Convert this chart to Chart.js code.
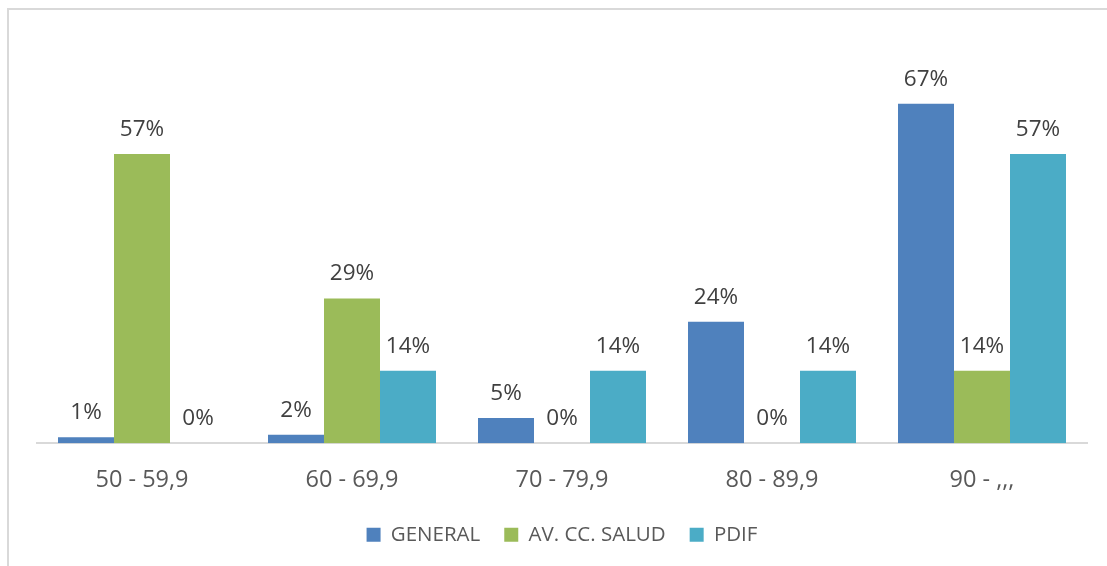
<!doctype html>
<html lang="es">
<head>
<meta charset="utf-8">
<title>Distribución por rangos</title>
<script src="https://cdn.jsdelivr.net/npm/chart.js@4/dist/chart.umd.min.js"></script>
<style>
  html, body { margin: 0; padding: 0; background: #fff; }
  #frame { position: absolute; left: 7px; top: 8px; width: 1110px; height: 570px;
           border-left: 2px solid #d9d9d9; border-top: 2px solid #d9d9d9; }
  #wrap { position: absolute; left: 0; top: 0; width: 1107px; height: 566px; }
</style>
</head>
<body>
<div id="frame"></div>
<div id="wrap"><canvas id="barChart" width="1107" height="566"></canvas></div>
<script>
// rangos de nota
var categories = ["50 - 59,9", "60 - 69,9", "70 - 79,9", "80 - 89,9", "90 - ,,,"];
// porcentajes por grupo
var general = [1.2, 1.7, 5, 24, 67];
var avSalud = [57.1, 28.6, 0, 0, 14.3];
var pdif = [0, 14.3, 14.3, 14.3, 57.1];

var font = "'Open Sans', 'DejaVu Sans', sans-serif";

// etiquetas encima de cada barra (sin plugin externo)
var valueLabels = {
  id: 'valueLabels',
  afterDatasetsDraw: function(chart) {
    var ctx = chart.ctx;
    ctx.save();
    ctx.font = "22.5px " + font;
    ctx.fillStyle = "#404040";
    ctx.textAlign = "center";
    ctx.textBaseline = "alphabetic";
    chart.data.datasets.forEach(function(ds, i) {
      var meta = chart.getDatasetMeta(i);
      meta.data.forEach(function(bar, j) {
        ctx.fillText(Math.round(ds.data[j]) + "%", bar.x, bar.y - 18);
      });
    });
    ctx.restore();
  }
};

var chart = new Chart(document.getElementById("barChart"), {
  type: 'bar',
  data: {
    labels: categories,
    datasets: [
      { label: 'GENERAL', data: general, backgroundColor: '#4f81bd' },
      { label: 'AV. CC. SALUD', data: avSalud, backgroundColor: '#9bbb59' },
      { label: 'PDIF', data: pdif, backgroundColor: '#4bacc6' }
    ]
  },
  options: {
    responsive: false,
    animation: false,
    layout: { padding: { left: 37, right: 20, top: 38, bottom: 11 } },
    datasets: { bar: { categoryPercentage: 0.8, barPercentage: 1.0 } },
    scales: {
      x: {
        grid: { display: false, drawTicks: false },
        border: { color: '#d9d9d9', width: 2 },
        ticks: { color: '#595959', font: { family: font, size: 23.5 }, padding: 23 },
        afterFit: function(scale) { scale.height -= 17; }
      },
      y: { display: false, min: 0, max: 80 }
    },
    plugins: {
      legend: {
        position: 'bottom',
        labels: {
          color: '#595959',
          font: { family: font, size: 20.5 },
          boxWidth: 14, boxHeight: 14,
          padding: 24
        }
      },
      tooltip: { enabled: false }
    }
  },
  plugins: [valueLabels]
});
</script>
</body>
</html>
